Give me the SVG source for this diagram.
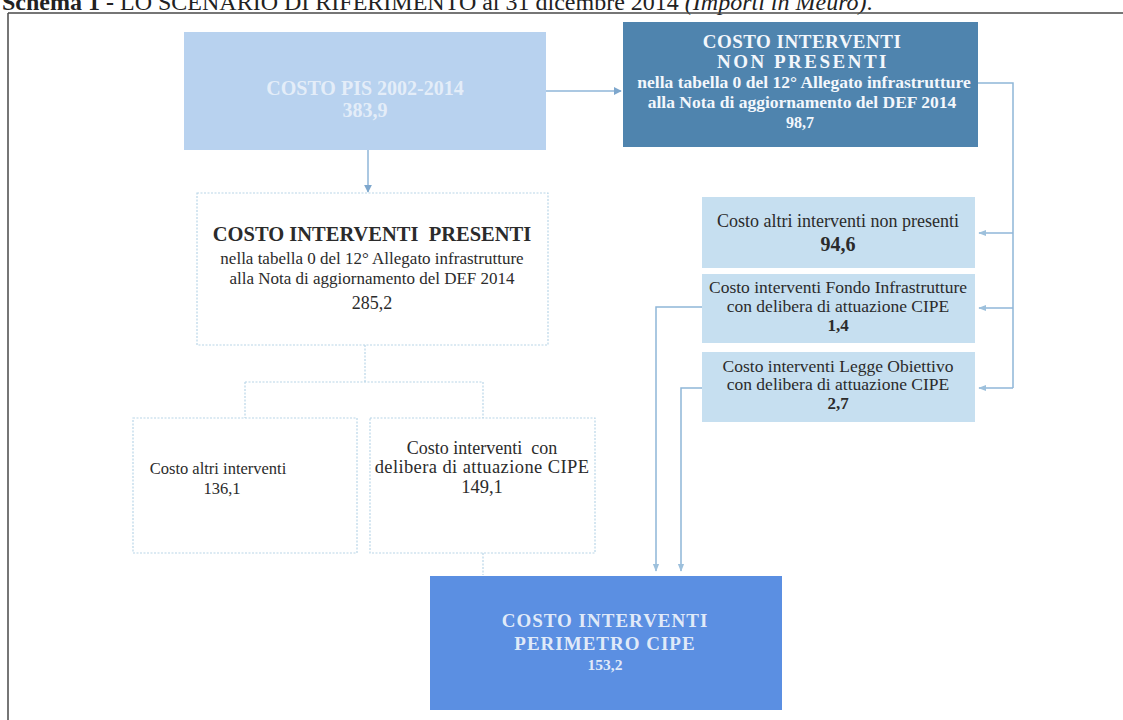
<svg xmlns="http://www.w3.org/2000/svg" width="1123" height="720" viewBox="0 0 1123 720">
<defs>
<style>
.serif{font-family:"Liberation Serif","DejaVu Serif",serif}
.wt{fill:#f3f7fc;font-weight:bold;text-anchor:middle}
.dk{fill:#2b2b2b;text-anchor:middle}
.conn{fill:none;stroke:#8fb6d8;stroke-width:1.5}
.dot{fill:none;stroke:#b9d6e8;stroke-width:1.2;stroke-dasharray:2 1.5}
.wbox{fill:#ffffff;stroke:#b9d6e8;stroke-width:1.2;stroke-dasharray:2 1.5}
</style>
<marker id="ah" viewBox="0 0 10 10" refX="9" refY="5" markerWidth="8" markerHeight="8" orient="auto" markerUnits="userSpaceOnUse">
<path d="M0,0 L10,5 L0,10 z" fill="#7ea7cd"/>
</marker>
<marker id="ahs" viewBox="0 0 10 10" refX="9" refY="5" markerWidth="8" markerHeight="8" orient="auto" markerUnits="userSpaceOnUse">
<path d="M0,1 L10,5 L0,9 z" fill="#9dc0dc"/>
</marker>
</defs>
<rect width="1123" height="720" fill="#ffffff"/>
<g id="title" class="serif">
<text x="2" y="10" font-size="24" fill="#222"><tspan font-weight="bold">Schema 1 -</tspan> LO SCENARIO DI RIFERIMENTO al 31 dicembre 2014 <tspan font-style="italic">(Importi in Meuro)</tspan>.</text>
</g>
<g id="frame">
<path d="M8,13 H1123 M8,13 V720" fill="none" stroke="#4a4a4a" stroke-width="1.5"/>
</g>
<g id="connectors">
<path class="conn" d="M546,91 H621" stroke="#6f9cc4" marker-end="url(#ah)"/>
<path class="conn" d="M368,150 V192" stroke="#6f9cc4" marker-end="url(#ah)"/>
<path class="conn" d="M978,83 H1013 V388"/>
<path class="conn" d="M1013,233 H979" marker-end="url(#ahs)"/>
<path class="conn" d="M1013,308 H979" marker-end="url(#ahs)"/>
<path class="conn" d="M1013,388 H979" marker-end="url(#ahs)"/>
<path class="conn" d="M702,307 H656 V571" marker-end="url(#ahs)"/>
<path class="conn" d="M702,388 H681 V571" marker-end="url(#ahs)"/>
<path class="dot" d="M365,345 V382 M245,382 H483 M245,382 V418 M483,382 V418"/>
<path class="dot" d="M483,553 V575"/>
</g>
<g id="costo-pis">
<rect x="184" y="32" width="362" height="118" fill="#b8d2ef"/>
<text class="serif wt" x="365" y="95" font-size="20" fill-opacity="0.75">COSTO PIS 2002-2014</text>
<text class="serif wt" x="365" y="117" font-size="20" fill-opacity="0.75">383,9</text>
</g>
<g id="non-presenti">
<rect x="623" y="22" width="355" height="125" fill="#4f84ae"/>
<text class="serif wt" x="802" y="48" font-size="19" letter-spacing="0.5">COSTO INTERVENTI</text>
<text class="serif wt" x="803" y="68" font-size="19" letter-spacing="2.5">NON PRESENTI</text>
<text class="serif wt" x="804" y="88" font-size="17.5">nella tabella 0 del 12° Allegato infrastrutture</text>
<text class="serif wt" x="802" y="108" font-size="17.5">alla Nota di aggiornamento del DEF 2014</text>
<text class="serif wt" x="800" y="128" font-size="16">98,7</text>
</g>
<g id="presenti">
<rect class="wbox" x="197" y="193" width="351" height="152"/>
<text class="serif dk" x="372" y="241" font-size="20.5" font-weight="bold" xml:space="preserve">COSTO INTERVENTI  PRESENTI</text>
<text class="serif dk" x="372" y="264" font-size="17">nella tabella 0 del 12° Allegato infrastrutture</text>
<text class="serif dk" x="372" y="284" font-size="17">alla Nota di aggiornamento del DEF 2014</text>
<text class="serif dk" x="372" y="309" font-size="18">285,2</text>
</g>
<g id="altri-interventi">
<rect class="wbox" x="133" y="418" width="224" height="135"/>
<text class="serif dk" x="218" y="474" font-size="16.5">Costo altri interventi</text>
<text class="serif dk" x="222" y="494" font-size="16.5">136,1</text>
</g>
<g id="delibera-cipe">
<rect class="wbox" x="370" y="418" width="225" height="135"/>
<text class="serif dk" x="482" y="454" font-size="18" xml:space="preserve">Costo interventi  con</text>
<text class="serif dk" x="482" y="473" font-size="18.5" letter-spacing="0.4">delibera di attuazione CIPE</text>
<text class="serif dk" x="482" y="493" font-size="18.5">149,1</text>
</g>
<g id="altri-non-presenti">
<rect x="702" y="197" width="273" height="71" fill="#c6dff0"/>
<text class="serif dk" x="838" y="227" font-size="18" fill="#444">Costo altri interventi non presenti</text>
<text class="serif dk" x="838" y="251" font-size="20" font-weight="bold">94,6</text>
</g>
<g id="fondo-infrastrutture">
<rect x="702" y="274" width="273" height="69" fill="#c6dff0"/>
<text class="serif dk" x="838" y="293" font-size="17.5">Costo interventi Fondo Infrastrutture</text>
<text class="serif dk" x="838" y="312" font-size="17.5">con delibera di attuazione CIPE</text>
<text class="serif dk" x="838" y="331" font-size="17" font-weight="bold">1,4</text>
</g>
<g id="legge-obiettivo">
<rect x="702" y="352" width="273" height="70" fill="#c6dff0"/>
<text class="serif dk" x="838" y="372" font-size="17.5">Costo interventi Legge Obiettivo</text>
<text class="serif dk" x="838" y="390" font-size="17.5">con delibera di attuazione CIPE</text>
<text class="serif dk" x="838" y="409" font-size="17" font-weight="bold">2,7</text>
</g>
<g id="perimetro-cipe">
<rect x="430" y="576" width="352" height="134" fill="#5b8fe2"/>
<text class="serif wt" x="605" y="627" font-size="19" letter-spacing="1" fill-opacity="0.9">COSTO INTERVENTI</text>
<text class="serif wt" x="605" y="650" font-size="19" letter-spacing="1" fill-opacity="0.9">PERIMETRO CIPE</text>
<text class="serif wt" x="605" y="670" font-size="15.5" fill-opacity="0.9">153,2</text>
</g>
</svg>
